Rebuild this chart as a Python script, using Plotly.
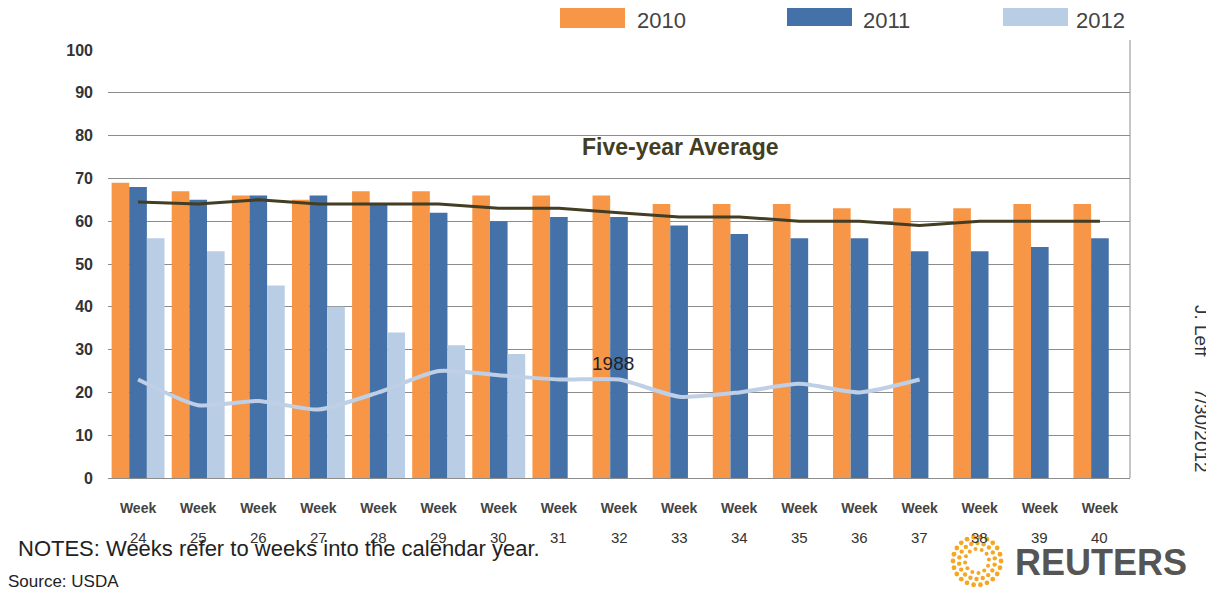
import math
import plotly.graph_objects as go

weeks = ["24", "25", "26", "27", "28", "29", "30", "31", "32", "33", "34", "35", "36", "37", "38", "39", "40"]
y2010 = [69, 67, 66, 65, 67, 67, 66, 66, 66, 64, 64, 64, 63, 63, 63, 64, 64]
y2011 = [68, 65, 66, 66, 64, 62, 60, 61, 61, 59, 57, 56, 56, 53, 53, 54, 56]
y2012 = [56, 53, 45, 40, 34, 31, 29, None, None, None, None, None, None, None, None, None, None]
five_year_avg = [64.5, 64, 65, 64, 64, 64, 63, 63, 62, 61, 61, 60, 60, 59, 60, 60, 60]
y1988 = [23, 17, 18, 16, 20, 25, 24, 23, 23, 19, 20, 22, 20, 23, None, None, None]
y_ticks = [0, 10, 20, 30, 40, 50, 60, 70, 80, 90, 100]

# page body adds an 8px offset; figure is sized to fit the window
OFF = 8
W, H = 1214 - OFF, 602 - OFF
# plot area in screen pixels
L, R, T, B = 108, 1130, 50, 478

def px(x):
    return (x - L) / (R - L)

def py(y):
    return (B - y) / (B - T)

ORANGE = "#F79646"
BLUE = "#4472A8"
LIGHT = "#B9CDE5"
OLIVE = "#423D23"
FONT = "Liberation Sans, Arial, sans-serif"

fig = go.Figure()
fig.add_bar(x=weeks, y=y2010, name="2010", marker=dict(color=ORANGE, line=dict(width=0)))
fig.add_bar(x=weeks, y=y2011, name="2011", marker=dict(color=BLUE, line=dict(width=0)))
fig.add_bar(x=weeks, y=y2012, name="2012", marker=dict(color=LIGHT, line=dict(width=0)))
fig.add_scatter(x=weeks, y=five_year_avg, mode="lines", name="Five-year Average",
                line=dict(color=OLIVE, width=3))
fig.add_scatter(x=weeks, y=y1988, mode="lines", name="1988",
                line=dict(color="#BFCFE6", width=4, shape="spline", smoothing=0.6))

fig.update_layout(
    width=W, height=H,
    margin=dict(l=L - OFF, r=(W + OFF) - R, t=T - OFF, b=(H + OFF) - B),
    plot_bgcolor="white", paper_bgcolor="white",
    barmode="group", bargap=0.12, bargroupgap=0.0,
    showlegend=False,
    font=dict(family=FONT, color="#333"),
)
fig.update_yaxes(range=[0, 100], tickvals=y_ticks, showgrid=True, gridcolor="#8c8c8c",
                 gridwidth=1, zeroline=False, showline=False,
                 tickfont=dict(size=16, color="#333", family="Liberation Sans, Arial", weight="bold"),
                 ticks="", ticklabelstandoff=14)
fig.update_xaxes(type="category", tickvals=weeks, ticktext=["Week"] * len(weeks), showgrid=False,
                 showline=True, linecolor="#8c8c8c", linewidth=1, tickangle=0,
                 tickfont=dict(size=14, color="#444", weight="bold"), ticks="", ticklabelstandoff=17)

ann = []
# week numbers (second line of category labels)
for i, w in enumerate(weeks):
    ann.append(dict(x=i, xref="x", y=py(537), yref="paper", text=w, showarrow=False,
                    font=dict(size=15, color="#333"), xanchor="center", yanchor="middle"))
ann.append(dict(x=px(680), y=py(147), xref="paper", yref="paper", text="<b>Five-year Average</b>",
                showarrow=False, font=dict(size=23, color=OLIVE), xanchor="center", yanchor="middle"))
ann.append(dict(x=px(613), y=py(363), xref="paper", yref="paper", text="1988", showarrow=False,
                font=dict(size=19, color="#222"), xanchor="center", yanchor="middle"))

# legend
legend = [("2010", ORANGE, 560, 7, 636), ("2011", BLUE, 787, 5, 862), ("2012", LIGHT, 1003, 5, 1075)]
shapes = []
for name, col, x0, y0, tx in legend:
    shapes.append(dict(type="rect", xref="paper", yref="paper", x0=px(x0), x1=px(x0 + 65),
                       y0=py(y0 + 21), y1=py(y0), fillcolor=col, line=dict(width=0)))
    ann.append(dict(x=px(tx), y=py(20), xref="paper", yref="paper", text=name, showarrow=False,
                    xanchor="left", yanchor="middle", font=dict(size=22, color="#444"),
                    borderpad=0))

ann.append(dict(x=px(16), y=py(548), xref="paper", yref="paper",
                text="NOTES: Weeks refer to weeks into the calendar year.", showarrow=False,
                xanchor="left", yanchor="middle", font=dict(size=22, color="#222")))
ann.append(dict(x=px(6), y=py(581), xref="paper", yref="paper", text="Source: USDA", showarrow=False,
                xanchor="left", yanchor="middle", font=dict(size=17, color="#222")))
ann.append(dict(x=px(1013), y=py(562), xref="paper", yref="paper", text="<b>REUTERS</b>",
                showarrow=False, xanchor="left", yanchor="middle",
                font=dict(size=36, color="#555")))
ann.append(dict(x=px(1202), y=py(389), xref="paper", yref="paper",
                text="J. Leff      7/30/2012", textangle=90, showarrow=False,
                xanchor="center", yanchor="middle", font=dict(size=19, color="#333")))

# Reuters logo: dotted ring
cx, cy = 977, 561
for ring, (rad, n, sz) in enumerate([(24, 22, 2.4), (18, 18, 2.2), (12, 12, 2.0)]):
    for k in range(n):
        a = 2 * math.pi * k / n + ring * 0.2
        x = cx + rad * math.cos(a)
        y = cy + rad * math.sin(a)
        shapes.append(dict(type="circle", xref="paper", yref="paper",
                           x0=px(x - sz), x1=px(x + sz), y0=py(y + sz), y1=py(y - sz),
                           fillcolor="#F5A623", line=dict(width=0)))

# plot border on right
shapes.append(dict(type="line", xref="paper", yref="paper", x0=1, x1=1, y0=0, y1=py(40),
                   line=dict(color="#8c8c8c", width=1)))

fig.update_layout(annotations=ann, shapes=shapes)
fig.write_html("out.html")
